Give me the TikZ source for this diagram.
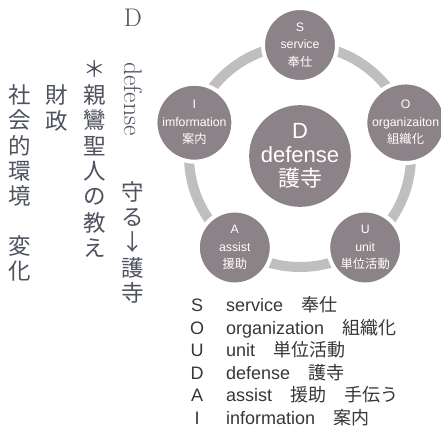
\documentclass[tikz,border=0pt]{standalone}
\usepackage{fontspec}
\newfontfamily\cjk{Noto Sans CJK JP}
\newfontfamily\hsans{Liberation Sans}
\definecolor{disc}{RGB}{139,131,135}
\definecolor{ringc}{RGB}{192,190,191}
\definecolor{ink}{RGB}{78,82,94}
\definecolor{legc}{RGB}{55,55,55}
\begin{document}
\begin{tikzpicture}[x=1pt,y=-1pt,
  sat/.style={circle, fill=disc, draw=white, line width=4pt, minimum size=74pt, inner sep=0pt,
    text=white, align=center, font=\hsans\fontsize{12.3}{17.5}\selectfont},
  hub/.style={circle, fill=disc, minimum size=94pt, inner sep=0pt,
    text=white, align=center, font=\hsans\fontsize{22}{24}\selectfont},
  ringline/.style={draw=ringc, line width=10pt},
  vch/.style={inner sep=0pt, text=ink, font=\cjk\fontsize{22.5}{22.5}\selectfont},
  vlat/.style={inner sep=0pt, text=ink, font=\fontsize{25.5}{25.5}\selectfont},
  legkey/.style={anchor=base, inner sep=0pt, text=legc, font=\hsans\fontsize{18}{18}\selectfont},
  legtxt/.style={anchor=base west, inner sep=0pt, text=legc, font=\hsans\fontsize{18}{18}\selectfont}
]
\useasboundingbox[fill=white] (0,0) rectangle (441,434);

% ---- radial cycle ----
\coordinate (ctr) at (300,156);
\draw[ringline] (ctr) circle[radius=111pt];
\node[hub] (hub) at (ctr) {D\\defense\\{\cjk 護寺}};
\node[sat] (S) at (300,45) {S\\service\\{\cjk 奉仕}};
\node[sat] (O) at (405.6,122.7) {O\\organizaiton\\{\cjk 組織化}};
\node[sat] (U) at (365.2,247.5) {U\\unit\\{\cjk 単位活動}};
\node[sat] (A) at (234.8,247.5) {A\\assist\\{\cjk 援助}};
\node[sat] (I) at (194.4,122.7) {I\\imformation\\{\cjk 案内}};

% ---- vertical text, column 1 ----
\node[vlat] (c1D) at (133,18) {D};
\node[vlat, rotate=-90] (c1def) at (133,99) {defense};
\foreach \ch [count=\i] in {守,る,↓,護,寺}
  \node[vch] (c1k\i) at (133,{192+25.25*(\i-1)}) {\ch};

% ---- column 2 ----
\foreach \ch [count=\i] in {＊,親,鸞,聖,人,の,教,え}
  \node[vch] (c2k\i) at (95,{69+25.6*(\i-1)}) {\ch};

% ---- column 3 ----
\foreach \ch [count=\i] in {財,政}
  \node[vch] (c3k\i) at (57,{95+25.6*(\i-1)}) {\ch};

% ---- column 4 ----
\foreach \ch [count=\i] in {社,会,的,環,境}
  \node[vch] (c4k\i) at (20,{95+25.3*(\i-1)}) {\ch};
\node[vch] (c4k6) at (20,246) {変};
\node[vch] (c4k7) at (20,271.5) {化};

% ---- legend ----
\foreach \k/\t [count=\i] in {S/{service\hspace{1em}{\cjk 奉仕}},
  O/{organization\hspace{1em}{\cjk 組織化}},
  U/{unit\hspace{1em}{\cjk 単位活動}},
  D/{defense\hspace{1em}{\cjk 護寺}},
  A/{assist\hspace{1em}{\cjk 援助}\hspace{1em}{\cjk 手伝う}},
  I/{information\hspace{1em}{\cjk 案内}}}{
  \node[legkey] (lk\i) at (197,{311.5+22.5*(\i-1)}) {\k};
  \node[legtxt] (lt\i) at (226,{311.5+22.5*(\i-1)}) {\t};
}
\end{tikzpicture}
\end{document}
